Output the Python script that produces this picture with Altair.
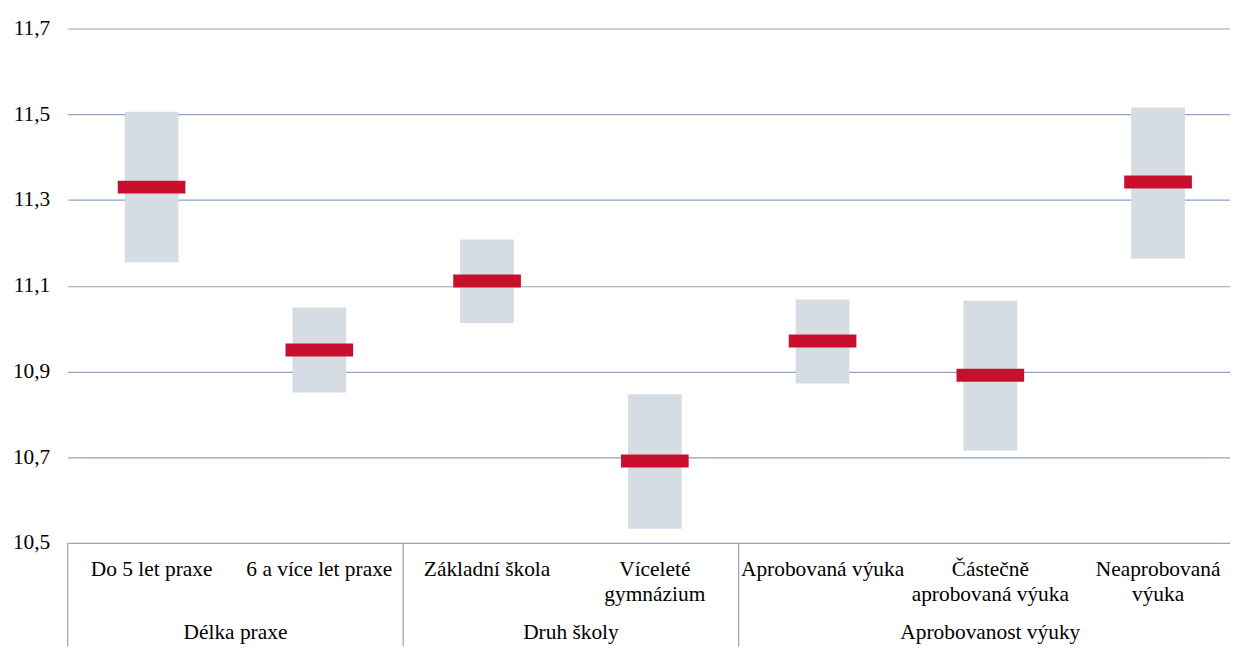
import altair as alt
import pandas as pd

# ---- data ----
categories = [
    "Do 5 let praxe",
    "6 a více let praxe",
    "Základní škola",
    "Víceleté\ngymnázium",
    "Aprobovaná výuka",
    "Částečně\naprobovaná výuka",
    "Neaprobovaná\nvýuka",
]
groups = ["Délka praxe", "Délka praxe", "Druh školy", "Druh školy",
          "Aprobovanost výuky", "Aprobovanost výuky", "Aprobovanost výuky"]
means = [11.330, 10.950, 11.111, 10.691, 10.971, 10.891, 11.342]
lows = [11.155, 10.851, 11.013, 10.533, 10.872, 10.715, 11.163]
highs = [11.506, 11.049, 11.208, 10.847, 11.068, 11.065, 11.516]
y_ticks = [10.5, 10.7, 10.9, 11.1, 11.3, 11.5, 11.7]

df = pd.DataFrame({"cat": categories, "grp": groups, "mean": means,
                   "low": lows, "high": highs})

FONT = "Liberation Serif, Times New Roman, serif"
FS = 21.5
GRID = "#8EA2C6"
BOX = "#D6DCE4"
RED = "#C8102E"
PLOT_W = 1168
PLOT_H = 517

xscale = alt.Scale(domain=categories, range=[0, 1180], paddingInner=0, paddingOuter=0)
yscale = alt.Scale(domain=[10.5, 11.7], nice=False, zero=False)
xenc = alt.X("cat:N", scale=xscale, axis=None, sort=categories)
yaxis = alt.Axis(values=y_ticks, title=None, ticks=False, domain=False,
                 labelExpr="replace(format(datum.value, '.1f'), '.', ',')",
                 labelFont=FONT, labelFontSize=FS, labelColor="#000000",
                 labelPadding=18, gridColor=GRID, gridWidth=1.2)

base = alt.Chart(df)

boxes = base.mark_bar(width=54, color=BOX).encode(
    x=xenc,
    y=alt.Y("low:Q", scale=yscale, axis=yaxis),
    y2="high:Q",
)

ticks = base.mark_tick(thickness=13, size=68, color=RED, opacity=1).encode(
    x=xenc,
    y=alt.Y("mean:Q", scale=yscale, axis=yaxis),
)

cat_labels = base.mark_text(font=FONT, fontSize=FS, color="#000000",
                            lineBreak="\n", lineHeight=25,
                            baseline="alphabetic", align="center").encode(
    x=xenc,
    y=alt.value(550),
    text="cat:N",
)

# group separators at the left edge of the first category of each group
group_names = []
for g in groups:
    if g not in group_names:
        group_names.append(g)
first_cats = [categories[groups.index(g)] for g in group_names]
sep_df = pd.DataFrame({"cat": first_cats})
seps = alt.Chart(sep_df).mark_rule(color=GRID, strokeWidth=1.2).encode(
    x=alt.X("cat:N", scale=xscale, axis=None, bandPosition=0),
    y=alt.value(PLOT_H),
    y2=alt.value(621),
)

group_layers = []
for g in group_names:
    idx = [i for i, gg in enumerate(groups) if gg == g]
    n = len(idx)
    if n % 2 == 0:
        anchor = categories[idx[n // 2 - 1]]
        bp = 1
    else:
        anchor = categories[idx[(n - 1) // 2]]
        bp = 0.5
    gdf = pd.DataFrame({"cat": [anchor], "grp": [g]})
    group_layers.append(
        alt.Chart(gdf).mark_text(font=FONT, fontSize=FS, color="#000000",
                                 baseline="alphabetic", align="center").encode(
            x=alt.X("cat:N", scale=xscale, axis=None, bandPosition=bp),
            y=alt.value(613),
            text="grp:N",
        )
    )

chart = alt.layer(boxes, ticks, cat_labels, seps, *group_layers).properties(
    width=PLOT_W,
    height=PLOT_H,
    autosize=alt.AutoSizeParams(type="none"),
    padding={"left": 60, "top": 19, "right": 0, "bottom": 115},
    background="white",
).configure_view(stroke=None).configure_axisY(domain=False, ticks=False)

chart.save("out.html", embed_options={"renderer": "svg", "actions": False})
